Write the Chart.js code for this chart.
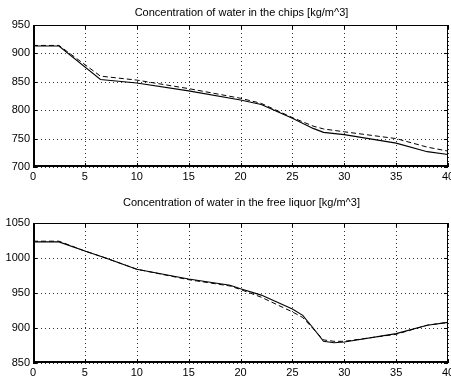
<!DOCTYPE html>
<html>
<head>
<meta charset="utf-8">
<script src="https://cdn.jsdelivr.net/npm/chart.js@4"></script>
<style>
  body { margin: 0; background: #fff; }
  .box { position: absolute; left: 0; width: 451px; }
  #top { top: 0; height: 190px; }
  #bot { top: 190px; height: 194px; }
</style>
</head>
<body>
<div class="box" id="top"><canvas id="chips"></canvas></div>
<div class="box" id="bot"><canvas id="liquor"></canvas></div>
<script>
// top plot: water in the chips
const chipsTitle = 'Concentration of water in the chips [kg/m^3]';
const chipsX = [0, 2.5, 6.5, 10, 15, 20, 22, 25, 27, 28, 30, 35, 38, 40];
const chipsSolid = [913, 913, 854, 848, 834, 818, 810, 786, 768, 761, 757, 742, 727, 722];
const chipsDashed = [914, 914, 860, 853, 838, 821, 812, 787, 772, 767, 762, 750, 735, 728];

// bottom plot: water in the free liquor
const liqTitle = 'Concentration of water in the free liquor [kg/m^3]';
const liqX = [0, 2.5, 5, 7, 10, 15, 19, 20, 22, 25, 26, 27, 28, 29, 30, 35, 38, 40];
const liqSolid = [1023, 1023, 1010, 1000, 984, 970, 961, 956, 947, 927, 918, 900, 881, 879, 880, 892, 904, 908];
const liqDashed = [1024, 1024, 1010, 1000, 984, 969, 960, 955, 944, 923, 915, 899, 883, 881, 881, 891, 904, 908];

const xTicks = [0, 5, 10, 15, 20, 25, 30, 35, 40];

Chart.defaults.font.family = '"Liberation Sans", Arial, sans-serif';
Chart.defaults.color = '#000';
Chart.defaults.animation = false;

// matlab style: dotted grid, box with inward ticks, title on top
const boxPlugin = {
    id: 'matBox',
    beforeDatasetsDraw(chart) {
        const { ctx, chartArea: a, scales } = chart;
        ctx.save();
        ctx.strokeStyle = '#333';
        ctx.lineWidth = 1;
        ctx.setLineDash([1, 3]);
        ctx.beginPath();
        scales.x.ticks.forEach(t => {
            const px = Math.round(scales.x.getPixelForValue(t.value)) + 0.5;
            ctx.moveTo(px, a.top); ctx.lineTo(px, a.bottom);
        });
        scales.y.ticks.forEach(t => {
            const py = Math.round(scales.y.getPixelForValue(t.value)) + 0.5;
            ctx.moveTo(a.left, py); ctx.lineTo(a.right, py);
        });
        ctx.stroke();
        ctx.restore();
    },
    afterDraw(chart, args, opts) {
        const { ctx, chartArea: a, scales } = chart;
        ctx.save();
        ctx.strokeStyle = '#000';
        ctx.setLineDash([]);
        ctx.lineWidth = 1;
        ctx.beginPath();
        ctx.moveTo(a.left, a.top + 0.5); ctx.lineTo(a.right, a.top + 0.5);
        ctx.moveTo(a.right - 0.5, a.top); ctx.lineTo(a.right - 0.5, a.bottom);
        scales.x.ticks.forEach(t => {
            const px = Math.round(scales.x.getPixelForValue(t.value)) + 0.5;
            ctx.moveTo(px, a.bottom); ctx.lineTo(px, a.bottom - 4);
            ctx.moveTo(px, a.top); ctx.lineTo(px, a.top + 4);
        });
        scales.y.ticks.forEach(t => {
            const py = Math.round(scales.y.getPixelForValue(t.value)) + 0.5;
            ctx.moveTo(a.left, py); ctx.lineTo(a.left + 4, py);
            ctx.moveTo(a.right, py); ctx.lineTo(a.right - 4, py);
        });
        ctx.stroke();
        ctx.lineWidth = 2;
        ctx.beginPath();
        ctx.moveTo(a.left + 1, a.top); ctx.lineTo(a.left + 1, a.bottom);
        ctx.moveTo(a.left, a.bottom - 1); ctx.lineTo(a.right, a.bottom - 1);
        ctx.stroke();
        ctx.font = '11px "Liberation Sans", Arial, sans-serif';
        ctx.fillStyle = '#000';
        ctx.textAlign = 'center';
        ctx.textBaseline = 'middle';
        ctx.fillText(opts.text, (a.left + a.right) / 2 + 1, opts.y);
        ctx.restore();
    }
};

function makeChart(id, title, xs, solid, dashed, ymin, ymax, top, xh) {
    const pts = arr => arr.map((v, i) => ({ x: xs[i], y: v }));
    return new Chart(document.getElementById(id), {
        type: 'line',
        data: {
            datasets: [
                { data: pts(dashed), borderColor: '#000', borderWidth: 1, borderDash: [5, 3], pointRadius: 0, tension: 0 },
                { data: pts(solid), borderColor: '#000', borderWidth: 1.1, pointRadius: 0, tension: 0 }
            ]
        },
        options: {
            responsive: true,
            maintainAspectRatio: false,
            layout: { padding: { top: top, right: 3, left: 0, bottom: 0 } },
            plugins: {
                legend: { display: false },
                tooltip: { enabled: false },
                matBox: { text: title, y: 13 }
            },
            scales: {
                x: {
                    type: 'linear', min: 0, max: 40,
                    afterBuildTicks: s => { s.ticks = xTicks.map(v => ({ value: v })); },
                    afterFit: s => { s.height = xh; s.paddingLeft = 0; s.paddingRight = 0; },
                    grid: { display: false, drawTicks: false },
                    border: { display: false },
                    ticks: { font: { size: 11 }, padding: 3, maxRotation: 0, callback: v => String(v) }
                },
                y: {
                    min: ymin, max: ymax,
                    ticks: { stepSize: 50, font: { size: 11 }, padding: 3, callback: v => String(v) },
                    afterFit: s => { s.width = 33; s.paddingTop = 0; s.paddingBottom = 0; },
                    grid: { display: false, drawTicks: false },
                    border: { display: false }
                }
            }
        },
        plugins: [boxPlugin]
    });
}

makeChart('chips', chipsTitle, chipsX, chipsSolid, chipsDashed, 700, 950, 25, 23);
makeChart('liquor', liqTitle, liqX, liqSolid, liqDashed, 850, 1050, 33, 21);
</script>
</body>
</html>
